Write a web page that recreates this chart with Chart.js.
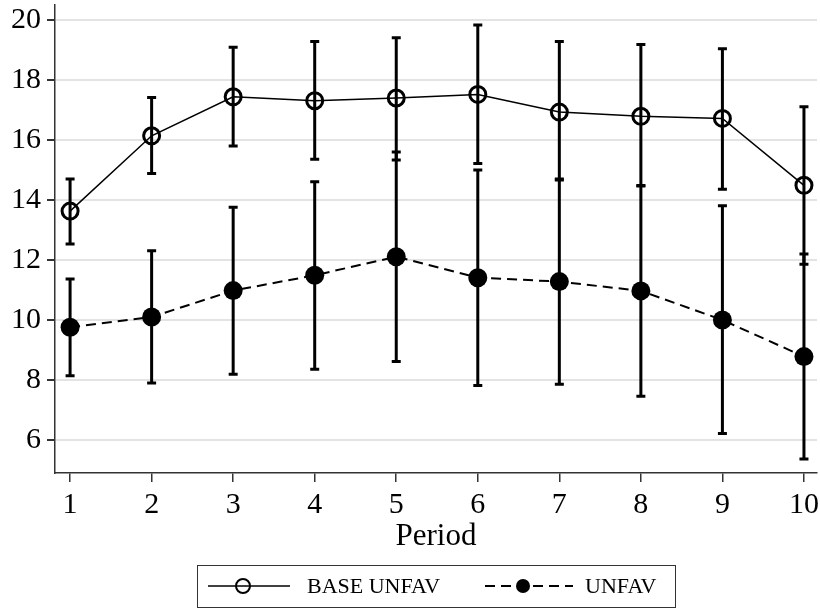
<!DOCTYPE html>
<html lang="en">
<head>
  <meta charset="UTF-8" />
  <title>Period chart</title>
  <script src="https://cdn.jsdelivr.net/npm/chart.js"></script>
  <style>
    html, body { margin: 0; padding: 0; background: #fff; }
    #wrap { width: 820px; height: 609px; position: relative; }
  </style>
</head>
<body>
  <div id="wrap"><canvas id="chartCanvas"></canvas></div>

  <script>
    const periods = [1, 2, 3, 4, 5, 6, 7, 8, 9, 10];
    const yTicks = [6, 8, 10, 12, 14, 16, 18, 20];

    const baseMean = [13.63, 16.14, 17.44, 17.31, 17.40, 17.52, 16.93, 16.79, 16.72, 14.49];
    const baseHi   = [14.70, 17.42, 19.09, 19.28, 19.41, 19.83, 19.28, 19.18, 19.04, 17.11];
    const baseLo   = [12.53, 14.88, 15.80, 15.36, 15.33, 15.22, 14.67, 14.47, 14.36, 11.86];

    const unfavMean = [9.76, 10.10, 10.98, 11.49, 12.11, 11.41, 11.28, 10.97, 10.00, 8.78];
    const unfavHi   = [11.37, 12.31, 13.76, 14.61, 15.60, 15.00, 14.70, 14.48, 13.81, 12.20];
    const unfavLo   = [8.14, 7.90, 8.19, 8.36, 8.62, 7.82, 7.86, 7.46, 6.22, 5.37];

    const serif = "'Liberation Serif', 'Times New Roman', serif";

    // error bars drawn under the markers
    const errorBars = {
      id: 'errorBars',
      beforeDatasetsDraw(chart) {
        const ctx = chart.ctx;
        const x = chart.scales.x, y = chart.scales.y;
        ctx.save();
        ctx.strokeStyle = '#000';
        ctx.lineWidth = 3;
        ctx.lineCap = 'butt';
        chart.data.datasets.forEach(ds => {
          ds.data.forEach((pt, i) => {
            const px = x.getPixelForValue(pt.x);
            const top = y.getPixelForValue(ds.errHi[i]);
            const bot = y.getPixelForValue(ds.errLo[i]);
            ctx.beginPath();
            ctx.moveTo(px, top); ctx.lineTo(px, bot);
            ctx.moveTo(px - 4.5, top); ctx.lineTo(px + 4.5, top);
            ctx.moveTo(px - 4.5, bot); ctx.lineTo(px + 4.5, bot);
            ctx.stroke();
          });
        });
        ctx.restore();
      }
    };

    // boxed legend under the axis title
    const boxLegend = {
      id: 'boxLegend',
      afterDraw(chart) {
        const ctx = chart.ctx;
        const ds = chart.data.datasets;
        const cy = 586;
        ctx.save();
        ctx.strokeStyle = '#333';
        ctx.lineWidth = 1;
        ctx.strokeRect(197.5, 565.5, 478, 42);

        const items = [
          { x0: 208, x1: 290, tx: 307 },
          { x0: 485, x1: 573, tx: 585 }
        ];
        items.forEach((it, k) => {
          const d = ds[k];
          ctx.strokeStyle = '#000';
          ctx.lineWidth = d.borderWidth;
          ctx.setLineDash(d.borderDash || []);
          ctx.beginPath();
          ctx.moveTo(it.x0, cy); ctx.lineTo(it.x1, cy);
          ctx.stroke();
          ctx.setLineDash([]);
          const mx = (it.x0 + it.x1) / 2 - 6;
          ctx.beginPath();
          ctx.arc(mx, cy, 7, 0, Math.PI * 2);
          if (d.pointBackgroundColor === '#000') {
            ctx.fillStyle = '#000';
            ctx.fill();
          } else {
            ctx.lineWidth = 2;
            ctx.stroke();
          }
          ctx.fillStyle = '#000';
          ctx.font = '22px ' + serif;
          ctx.textBaseline = 'middle';
          ctx.textAlign = 'left';
          ctx.fillText(d.label, it.tx, cy + 1);
        });
        ctx.restore();
      }
    };

    const toPts = arr => arr.map((v, i) => ({ x: periods[i], y: v }));

    new Chart(document.getElementById('chartCanvas'), {
      type: 'line',
      data: {
        datasets: [
          {
            label: 'BASE UNFAV',
            data: toPts(baseMean),
            errHi: baseHi,
            errLo: baseLo,
            borderColor: '#000',
            borderWidth: 1.5,
            pointStyle: 'circle',
            pointRadius: 8,
            pointBorderWidth: 3,
            pointBorderColor: '#000',
            pointBackgroundColor: 'rgba(0,0,0,0)',
            tension: 0
          },
          {
            label: 'UNFAV',
            data: toPts(unfavMean),
            errHi: unfavHi,
            errLo: unfavLo,
            borderColor: '#000',
            borderWidth: 2,
            borderDash: [10, 6],
            pointStyle: 'circle',
            pointRadius: 9.5,
            pointBorderWidth: 0,
            pointBorderColor: '#000',
            pointBackgroundColor: '#000',
            tension: 0
          }
        ]
      },
      options: {
        responsive: true,
        maintainAspectRatio: false,
        animation: false,
        layout: { autoPadding: false, padding: { left: 0, right: 3, top: 5, bottom: 53 } },
        plugins: {
          legend: { display: false },
          tooltip: { enabled: false }
        },
        scales: {
          x: {
            type: 'linear',
            min: 0.815,
            max: 10.16,
            afterBuildTicks: s => { s.ticks = periods.map(v => ({ value: v })); },
            afterFit: s => { s.height = 83; s.paddingLeft = 0; s.paddingRight = 0; },
            border: { color: '#333', width: 1.5 },
            grid: { drawOnChartArea: false, color: '#333', tickColor: '#333', tickLength: 9, lineWidth: 1.5 },
            ticks: { color: '#000', font: { family: serif, size: 30 }, padding: 5, maxRotation: 0 },
            title: { display: true, text: 'Period', color: '#000', font: { family: serif, size: 31 }, padding: { top: 0, bottom: 1 } }
          },
          y: {
            min: 4.9,
            max: 20.5,
            afterBuildTicks: s => { s.ticks = yTicks.map(v => ({ value: v })); },
            afterFit: s => { s.width = 55; s.paddingTop = 0; s.paddingBottom = 0; },
            border: { color: '#333', width: 1.5 },
            grid: { color: '#e3e3e3', tickColor: '#333', tickLength: 8, lineWidth: 2 },
            ticks: { color: '#000', font: { family: serif, size: 30 }, padding: 6 }
          }
        }
      },
      plugins: [errorBars, boxLegend]
    });
  </script>
</body>
</html>
